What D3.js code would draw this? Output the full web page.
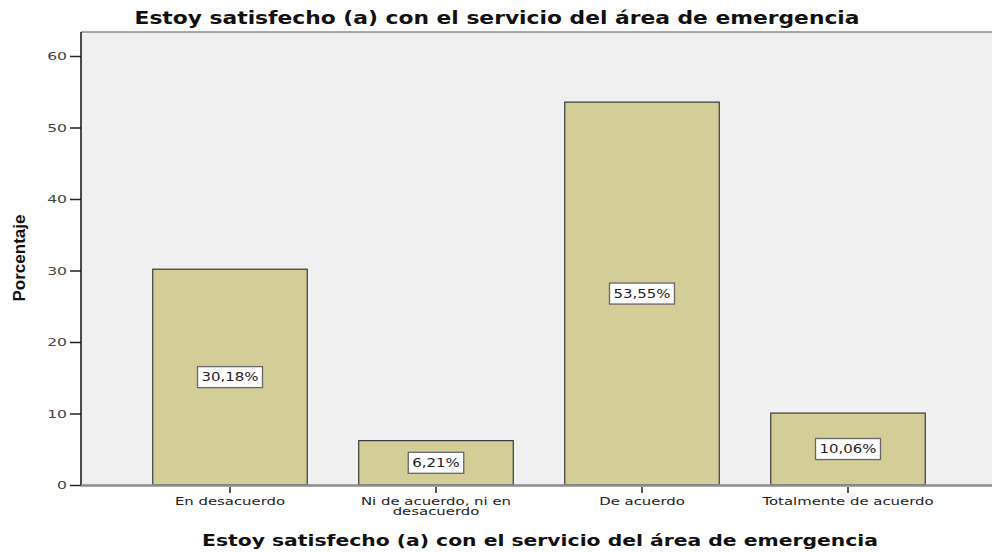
<!DOCTYPE html>
<html>
<head>
<meta charset="utf-8">
<script src="https://cdn.jsdelivr.net/npm/d3@7"></script>
<style>
  body { margin: 0; background: #fff; }
  svg { display: block; }
</style>
</head>
<body>
<div id="chart"></div>
<script>
// data
var categories = ["En desacuerdo", "Ni de acuerdo, ni en desacuerdo", "De acuerdo", "Totalmente de acuerdo"];
var categoryLines = [["En desacuerdo"], ["Ni de acuerdo, ni en", "desacuerdo"], ["De acuerdo"], ["Totalmente de acuerdo"]];
var percentages = [30.18, 6.21, 53.55, 10.06];
var valueLabels = ["30,18%", "6,21%", "53,55%", "10,06%"];
var yTicks = [0, 10, 20, 30, 40, 50, 60];

var W = 992, H = 552;
var plot = {left: 81, top: 32, right: 992, bottom: 485};
//SPSS draws with a wide font, so small texts get stretched sideways
var stretch = 1.42;

var svg = d3.select("#chart").append("svg")
    .attr("width", W)
    .attr("height", H);

var x = d3.scaleBand()
    .domain(categories)
    .range([127, 951])
    .paddingInner(0.25)
    .paddingOuter(0.125);

var y = d3.scaleLinear()
    .domain([0, 60])
    .range([plot.bottom, 56]);

//plot background
svg.append("rect")
    .attr("x", plot.left)
    .attr("y", plot.top)
    .attr("width", plot.right - plot.left)
    .attr("height", plot.bottom - plot.top)
    .attr("fill", "#f0f0f0");

//top border
svg.append("line")
    .attr("x1", plot.left).attr("x2", plot.right)
    .attr("y1", plot.top).attr("y2", plot.top)
    .attr("stroke", "#8c8c8c")
    .attr("stroke-width", 1.5);

//bars
svg.selectAll(".bar")
    .data(percentages)
    .enter().append("rect")
    .attr("class", "bar")
    .attr("x", function (d, i) { return x(categories[i]); })
    .attr("y", function (d) { return y(d); })
    .attr("width", x.bandwidth())
    .attr("height", function (d) { return y(0) - y(d); })
    .attr("fill", "#d3ce98")
    .attr("stroke", "#3a3a3a")
    .attr("stroke-width", 1.2);

//value labels in white boxes
var lab = svg.selectAll(".vlab")
    .data(percentages)
    .enter().append("g")
    .attr("class", "vlab")
    .attr("transform", function (d, i) {
        return "translate(" + (x(categories[i]) + x.bandwidth() / 2) + "," + y(d / 2) + ")";
    });

lab.append("text")
    .attr("text-anchor", "middle")
    .attr("dy", "0.36em")
    .attr("transform", "scale(1.3,1)")
    .attr("font-family", "DejaVu Sans, sans-serif")
    .attr("font-size", 11.5)
    .attr("fill", "#222")
    .text(function (d, i) { return valueLabels[i]; })
    .each(function () {
        var w = this.getBBox().width * 1.3;
        d3.select(this.parentNode).insert("rect", "text")
            .attr("x", -w / 2 - 4)
            .attr("y", -10.5)
            .attr("width", w + 8)
            .attr("height", 21)
            .attr("fill", "#fff")
            .attr("stroke", "#666")
            .attr("stroke-width", 1.3);
    });

//y axis
var yAxis = svg.append("g")
    .attr("transform", "translate(" + plot.left + ",0)")
    .call(d3.axisLeft(y).tickValues(yTicks).tickSize(11).tickPadding(2));
yAxis.select(".domain").remove();
yAxis.selectAll(".tick line").attr("stroke", "#222").attr("stroke-width", 1.5);
yAxis.selectAll(".tick text")
    .attr("x", 0)
    .attr("transform", "translate(-14,0) scale(" + stretch + ",1)")
    .attr("font-family", "DejaVu Sans, sans-serif")
    .attr("font-size", 11)
    .attr("fill", "#444");

svg.append("line")
    .attr("x1", plot.left).attr("x2", plot.left)
    .attr("y1", plot.top).attr("y2", plot.bottom)
    .attr("stroke", "#111")
    .attr("stroke-width", 1.5);

//x axis
svg.append("line")
    .attr("x1", plot.left).attr("x2", plot.right)
    .attr("y1", plot.bottom + 0.5).attr("y2", plot.bottom + 0.5)
    .attr("stroke", "#8c8c8c")
    .attr("stroke-width", 2.5);

var xt = svg.selectAll(".xtick")
    .data(categories)
    .enter().append("g")
    .attr("class", "xtick")
    .attr("transform", function (d) { return "translate(" + (x(d) + x.bandwidth() / 2) + "," + plot.bottom + ")"; });

xt.append("line")
    .attr("y1", 2).attr("y2", 8)
    .attr("stroke", "#222")
    .attr("stroke-width", 1.5);

xt.append("text")
    .attr("text-anchor", "middle")
    .attr("transform", "scale(" + stretch + ",1)")
    .attr("font-family", "DejaVu Sans, sans-serif")
    .attr("font-size", 10.5)
    .attr("fill", "#222")
    .selectAll("tspan")
    .data(function (d, i) { return categoryLines[i]; })
    .enter().append("tspan")
    .attr("x", 0)
    .attr("y", function (d, j) { return 20 + j * 10.5; })
    .text(function (d) { return d; });

//titles
svg.append("text")
    .attr("x", 497)
    .attr("y", 24)
    .attr("text-anchor", "middle")
    .attr("font-family", "DejaVu Sans, sans-serif")
    .attr("font-weight", "bold")
    .attr("font-size", 17.5)
    .attr("fill", "#111")
    .attr("textLength", 725)
    .attr("lengthAdjust", "spacingAndGlyphs")
    .text("Estoy satisfecho (a) con el servicio del área de emergencia");

svg.append("text")
    .attr("x", 540)
    .attr("y", 546)
    .attr("text-anchor", "middle")
    .attr("font-family", "DejaVu Sans, sans-serif")
    .attr("font-weight", "bold")
    .attr("font-size", 16)
    .attr("fill", "#111")
    .attr("textLength", 676)
    .attr("lengthAdjust", "spacingAndGlyphs")
    .text("Estoy satisfecho (a) con el servicio del área de emergencia");

svg.append("text")
    .attr("transform", "translate(25,258) rotate(-90)")
    .attr("text-anchor", "middle")
    .attr("font-family", "Liberation Sans Narrow, Liberation Sans, sans-serif")
    .attr("font-weight", "bold")
    .attr("font-size", 16)
    .attr("fill", "#111")
    .attr("textLength", 87)
    .attr("lengthAdjust", "spacingAndGlyphs")
    .text("Porcentaje");
</script>
</body>
</html>
